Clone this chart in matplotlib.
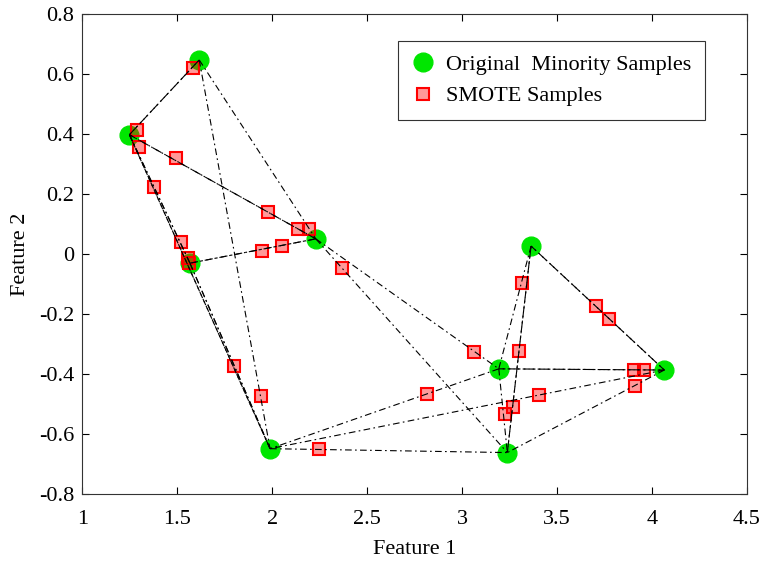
import matplotlib
matplotlib.use("Agg")
import matplotlib.pyplot as plt
from matplotlib.lines import Line2D

plt.rcParams['font.family'] = ['Liberation Serif', 'DejaVu Serif']

# Original minority samples (A..I)
orig_names = ["A", "B", "C", "D", "E", "F", "G", "H", "I"]
orig_x = [1.616, 1.248, 1.567, 2.230, 3.364, 3.194, 4.066, 1.989, 3.239]
orig_y = [0.647, 0.398, -0.030, 0.051, 0.027, -0.382, -0.386, -0.648, -0.661]

# SMOTE synthetic samples
smote_x = [1.582, 1.290, 1.300, 1.492, 1.379, 1.980, 2.135, 2.196, 1.518, 1.555,
           1.564, 1.945, 2.051, 2.367, 1.801, 1.940, 2.249, 2.818, 3.066, 3.317,
           3.302, 3.225, 3.271, 3.406, 3.707, 3.777, 3.908, 3.958, 3.914]
smote_y = [0.621, 0.414, 0.356, 0.319, 0.223, 0.142, 0.084, 0.084, 0.042, -0.014,
           -0.028, 0.012, 0.026, -0.045, -0.372, -0.471, -0.650, -0.466, -0.325, -0.095,
           -0.322, -0.533, -0.510, -0.469, -0.173, -0.216, -0.386, -0.386, -0.438]

# neighbour links (mutual links are drawn in both directions)
edges_mutual = [("A", "B"), ("B", "C"), ("B", "D"), ("B", "H"), ("C", "D"), ("C", "H"),
                ("E", "I"), ("E", "G"), ("F", "G")]
edges_single = [("A", "H"), ("A", "D"), ("D", "I"), ("D", "F"), ("E", "F"), ("F", "H"),
                ("G", "H"), ("G", "I"), ("H", "I"), ("F", "I")]

x_ticks = [1, 1.5, 2, 2.5, 3, 3.5, 4, 4.5]
x_tick_labels = ["1", "1.5", "2", "2.5", "3", "3.5", "4", "4.5"]
y_ticks = [-0.8, -0.6, -0.4, -0.2, 0, 0.2, 0.4, 0.6, 0.8]
y_tick_labels = ["-0.8", "-0.6", "-0.4", "-0.2", "0", "0.2", "0.4", "0.6", "0.8"]

fig = plt.figure(figsize=(7.6, 5.61), dpi=100)
ax = fig.add_axes([0.1083, 0.1189, 0.8742, 0.8561])

idx = {n: i for i, n in enumerate(orig_names)}
ls = (0, (6, 3, 1.5, 3))
def draw(a, b):
    i, j = idx[a], idx[b]
    ax.plot([orig_x[i], orig_x[j]], [orig_y[i], orig_y[j]], color='black',
            lw=0.8, linestyle=ls, zorder=4)

for a, b in edges_mutual:
    draw(a, b)
    draw(b, a)
for a, b in edges_single:
    draw(a, b)

green = '#00e600'
ax.plot(orig_x, orig_y, linestyle='none', marker='o', markersize=13.5,
        markerfacecolor=green, markeredgecolor=green, zorder=2)
ax.plot(smote_x, smote_y, linestyle='none', marker='s', markersize=9,
        markerfacecolor=(1, 0, 0, 0.4), markeredgecolor='red', markeredgewidth=1.5,
        zorder=3)

ax.set_xlim(1, 4.5)
ax.set_ylim(-0.8, 0.8)
ax.set_xticks(x_ticks)
ax.set_xticklabels(x_tick_labels)
ax.set_yticks(y_ticks)
ax.set_yticklabels(y_tick_labels)
ax.tick_params(direction='in', top=True, right=True, length=5, width=0.8,
               labelsize=16)
ax.tick_params(axis='x', pad=11)
ax.tick_params(axis='y', pad=6)
for s in ax.spines.values():
    s.set_linewidth(0.8)
    s.set_color('#333333')

ax.set_xlabel("Feature 1", fontsize=16, labelpad=8)
ax.set_ylabel("Feature 2", fontsize=16, labelpad=6)

handles = [
    Line2D([], [], linestyle='none', marker='o', markersize=13.5,
           markerfacecolor=green, markeredgecolor=green),
    Line2D([], [], linestyle='none', marker='s', markersize=9,
           markerfacecolor=(1, 0, 0, 0.4), markeredgecolor='red', markeredgewidth=1.5),
]
leg = ax.legend(handles, ["Original  Minority Samples", "SMOTE Samples"],
                loc='upper right', bbox_to_anchor=(0.937, 0.944), borderaxespad=0,
                fontsize=16, fancybox=False, framealpha=1, edgecolor='#333333',
                handlelength=1.0, handletextpad=0.55, labelspacing=0.5,
                borderpad=0.6)
leg.get_frame().set_linewidth(0.8)

fig.savefig("out.png", dpi=100)
